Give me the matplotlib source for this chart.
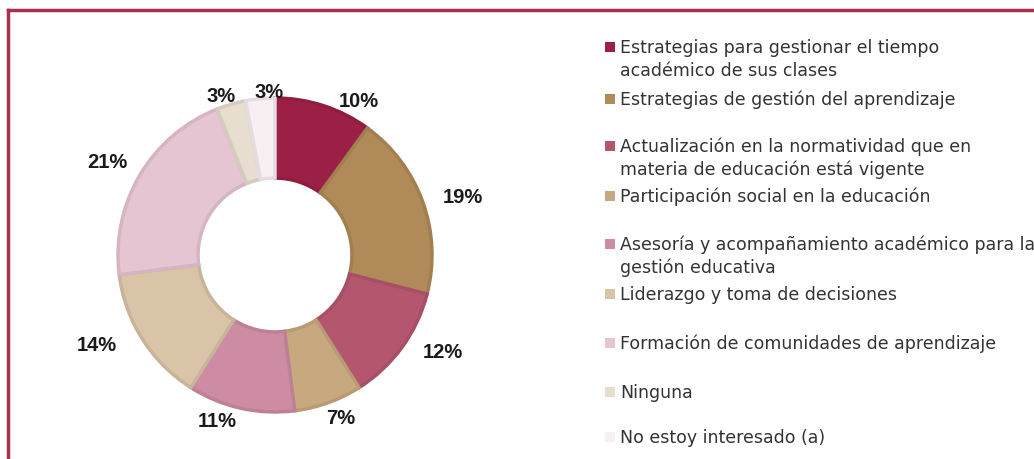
import numpy as np
import matplotlib.pyplot as plt
from matplotlib.patches import Rectangle
from matplotlib.lines import Line2D
import matplotlib.colors as mc

labels = [
    "Estrategias para gestionar el tiempo\nacadémico de sus clases",
    "Estrategias de gestión del aprendizaje",
    "Actualización en la normatividad que en\nmateria de educación está vigente",
    "Participación social en la educación",
    "Asesoría y acompañamiento académico para la\ngestión educativa",
    "Liderazgo y toma de decisiones",
    "Formación de comunidades de aprendizaje",
    "Ninguna",
    "No estoy interesado (a)",
]
values = [10, 19, 12, 7, 11, 14, 21, 3, 3]
colors = ["#9c1f46", "#b08a58", "#b5566f", "#c8a97f", "#cd8ca3",
          "#d9c4a8", "#e6c5d2", "#e8ded0", "#f8eff3"]

# label placement (radius factor, angle nudge in degrees) - like excel's best fit
lab_r = [1.12, 1.25, 1.23, 1.12, 1.12, 1.27, 1.22, 1.07, 1.045]
lab_da = [-10.5, -2.6, 6.1, 2.3, -6.7, -5.8, 1.5, 2.6, -3.3]

def darker(c, f=0.92):
    r, g, b = mc.to_rgb(c)
    return (r * f, g * f, b * f)

W, H = 1034, 460
fig = plt.figure(figsize=(W / 100, H / 100), dpi=100)

# donut
cx, cy, R = 275, 256, 157
half = 1.3 * R
ax = fig.add_axes([(cx - half) / W, (H - cy - half) / H, 2 * half / W, 2 * half / H])
wedges, _ = ax.pie(values, colors=colors, startangle=90, counterclock=False,
                   radius=1.0, wedgeprops=dict(width=0.51, linewidth=2.5))
for w, c, v, r, da in zip(wedges, colors, values, lab_r, lab_da):
    w.set_edgecolor(darker(c))
    ang = np.deg2rad((w.theta1 + w.theta2) / 2 + da)
    ax.text(r * np.cos(ang), r * np.sin(ang), f"{v}%", ha="center", va="center",
            fontsize=14.5, fontweight="bold", color="#1a1a1a", family="Liberation Sans")
ax.set_xlim(-1.3, 1.3)
ax.set_ylim(-1.3, 1.3)
ax.set_aspect("equal")
ax.axis("off")

# legend (one text per line so the first line sits on the baseline)
leg_base = [53, 105, 152, 202, 250, 300, 349, 398, 443]
step = 23
for lab, c, y in zip(labels, colors, leg_base):
    fig.patches.append(Rectangle((605 / W, (H - y) / H), 10 / W, 10 / H,
                                 transform=fig.transFigure, facecolor=c,
                                 edgecolor="none"))
    for i, line in enumerate(lab.split("\n")):
        fig.text(620 / W, (H - y - i * step) / H, line, fontsize=12.5, color="#333333",
                 family="DejaVu Sans", va="baseline", ha="left")

# frame
bc = "#a8304f"
fig.lines.append(Line2D([8 / W, 8 / W], [0, (H - 11) / H], transform=fig.transFigure,
                        color=bc, linewidth=2.5))
fig.lines.append(Line2D([8 / W, 1], [(H - 11) / H, (H - 11) / H], transform=fig.transFigure,
                        color=bc, linewidth=2.5))

fig.savefig("out.png", dpi=100)
